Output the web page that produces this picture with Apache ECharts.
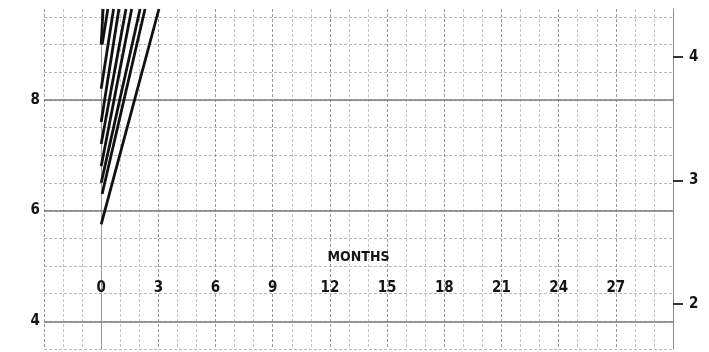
<!DOCTYPE html>
<html>
<head>
<meta charset="utf-8">
<script src="https://cdn.jsdelivr.net/npm/echarts@6/dist/echarts.min.js"></script>
<style>
html,body{margin:0;padding:0;background:#fff;}
#c{width:709px;height:352px;}
</style>
</head>
<body>
<div id="c"></div>
<script>
// ---- data ----
const startMonth = [0.0, 0.05, 0.0, 0.0, 0.0, 0.0, 0.0, 0.0, 0.05];
const startLb    = [5.75, 6.3, 6.5, 6.8, 7.2, 7.6, 8.2, 9.0, 9.0];
const topMonth   = [3.03, 2.3, 2.04, 1.6, 1.3, 0.93, 0.65, 0.1, 0.35];
const topLb      = 9.64;

const monthLabels = [0, 3, 6, 9, 12, 15, 18, 21, 24, 27];
const lbLabels    = [4, 6, 8];
const kgLabels    = [2, 3, 4];
const majorLb     = [4, 6, 8];

// axis ranges
const monthMin = -3, monthMax = 30;
const lbMin = 3.5, lbMax = 9.64;
const kgMin = 1.636, kgMax = 4.389;

const FONT = '"DejaVu Sans Condensed", "Liberation Sans Narrow", "Liberation Sans", sans-serif';

const series = startMonth.map((m, i) => ({
  type: 'line',
  xAxisIndex: 0,
  yAxisIndex: 0,
  data: [[m, startLb[i]], [topMonth[i], topLb]],
  showSymbol: false,
  symbol: 'none',
  clip: true,
  lineStyle: { color: '#111', width: 2.8 },
  z: 5,
  silent: true
}));

// major horizontal lines
series.push({
  type: 'line',
  data: [],
  silent: true,
  markLine: {
    silent: true,
    symbol: 'none',
    label: { show: false },
    lineStyle: { color: '#7a7a7a', width: 1.6, type: 'solid' },
    data: majorLb.map(v => ({ yAxis: v }))
  },
  z: 2
});

const txt = { color: '#151515', fontSize: 15, fontFamily: FONT, fontWeight: 'bold' };

const chart = echarts.init(document.getElementById('c'), null, { renderer: 'canvas' });
chart.setOption({
  backgroundColor: '#ffffff',
  animation: false,
  grid: { left: 44, right: 36, top: 9, bottom: 3, containLabel: false },
  xAxis: [{
    type: 'value',
    min: monthMin,
    max: monthMax,
    interval: 1,
    position: 'bottom',
    offset: -77,
    name: 'MONTHS',
    nameLocation: 'middle',
    nameGap: -22,
    nameTextStyle: Object.assign({}, txt, { fontSize: 14, verticalAlign: 'top' }),
    axisLine: { show: false },
    axisTick: { show: false },
    axisLabel: Object.assign({ customValues: monthLabels, margin: 9 }, txt),
    splitLine: {
      show: true,
      lineStyle: { color: ['#999999', '#c4c4c4', '#c4c4c4'], width: 1, type: [3, 2] }
    }
  }],
  yAxis: [{
    type: 'value',
    min: lbMin,
    max: lbMax,
    interval: 0.5,
    position: 'left',
    axisLine: { show: true, lineStyle: { color: '#9a9a9a', width: 1 } },
    axisTick: { show: false },
    axisLabel: Object.assign({ customValues: lbLabels, margin: 4 }, txt),
    splitLine: {
      show: true,
      showMaxLine: false,
      lineStyle: { color: '#b8b8b8', width: 1, type: [3, 2] }
    }
  }, {
    type: 'value',
    min: kgMin,
    max: kgMax,
    position: 'right',
    axisLine: { show: true, lineStyle: { color: '#8a8a8a', width: 1 } },
    axisTick: {
      show: true,
      customValues: kgLabels,
      length: 10,
      lineStyle: { color: '#333', width: 2 }
    },
    axisLabel: Object.assign({ customValues: kgLabels, margin: 16 }, txt),
    splitLine: { show: false }
  }],
  series: series
});
</script>
</body>
</html>
